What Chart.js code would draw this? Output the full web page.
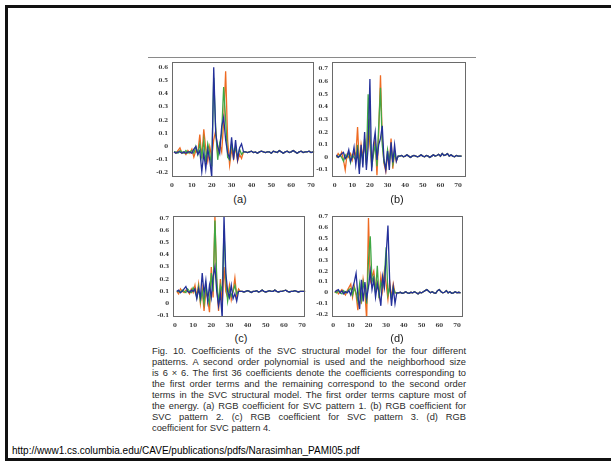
<!DOCTYPE html>
<html>
<head>
<meta charset="utf-8">
<script src="https://cdn.jsdelivr.net/npm/chart.js@4.4.1/dist/chart.umd.min.js"></script>
<style>
  html, body { margin: 0; padding: 0; background: #fff; width: 611px; height: 461px; overflow: hidden; }
  .frame { position: absolute; left: 5px; top: 5px; width: 640px; height: 456px; box-sizing: border-box; border: 3px solid #111; }
  .rule { position: absolute; left: 148px; top: 57px; width: 328px; height: 1px; background: #8a8a8a; }
  canvas { position: absolute; }
  .sub { position: absolute; font: 11px "Liberation Sans", Arial, sans-serif; color: #222; transform: translateX(-50%); }
  .caption { position: absolute; left: 152px; top: 346px; width: 314px; font: 9.3px "Liberation Sans", Arial, sans-serif; color: #2a2a2a; line-height: 11px; }
  .caption div { text-align: justify; text-align-last: justify; white-space: nowrap; }
  .caption div.last { text-align-last: left; }
  .url { position: absolute; left: 12px; top: 445px; font: 10px "Liberation Sans", Arial, sans-serif; color: #000; }
</style>
</head>
<body>
<div class="frame"></div>
<div class="rule"></div>
<canvas id="pa"></canvas>
<canvas id="pb"></canvas>
<canvas id="pc"></canvas>
<canvas id="pd"></canvas>
<div class="sub" style="left:240px; top:193px">(a)</div>
<div class="sub" style="left:397px; top:193px">(b)</div>
<div class="sub" style="left:241px; top:332px">(c)</div>
<div class="sub" style="left:397px; top:332px">(d)</div>
<div class="caption">
  <div>Fig. 10. Coefficients of the SVC structural model for the four different</div>
  <div>patterns. A second order polynomial is used and the neighborhood size</div>
  <div>is 6 × 6. The first 36 coefficients denote the coefficients corresponding to</div>
  <div>the first order terms and the remaining correspond to the second order</div>
  <div>terms in the SVC structural model. The first order terms capture most of</div>
  <div>the energy. (a) RGB coefficient for SVC pattern 1. (b) RGB coefficient for</div>
  <div>SVC pattern 2. (c) RGB coefficient for SVC pattern 3. (d) RGB</div>
  <div class="last">coefficient for SVC pattern 4.</div>
</div>
<div class="url">http://www1.cs.columbia.edu/CAVE/publications/pdfs/Narasimhan_PAMI05.pdf</div>

<script>
// coefficient index 1..72, first 36 hand read, then the flat tail
const xTicks = [0, 10, 20, 30, 40, 50, 60, 70]

// (a)
const aRed = [-0.04, -0.05, -0.03, -0.01, -0.05, -0.04, -0.06, -0.03, -0.05, -0.02, -0.08, -0.03, -0.05, 0.09, -0.09, 0.13, -0.02, -0.11, 0.0, -0.08, 0.05, 0.12, -0.06, 0.02, -0.04, 0.18, 0.57, 0.05, -0.14, -0.02, -0.09, 0.0, -0.11, -0.06, -0.09, -0.04]
const aGreen = [-0.04, -0.04, -0.05, -0.03, -0.04, -0.05, -0.03, -0.05, -0.04, -0.03, -0.05, 0.0, -0.06, 0.02, -0.08, 0.05, -0.12, 0.02, -0.05, -0.15, 0.52, 0.13, -0.1, 0.02, 0.1, 0.45, 0.2, -0.08, -0.1, 0.02, -0.05, -0.01, -0.08, -0.02, -0.06, -0.04]
const aBlue = [-0.04, -0.05, -0.04, -0.04, -0.05, -0.04, -0.05, -0.04, -0.04, -0.05, -0.02, 0.0, -0.06, -0.03, -0.19, -0.05, -0.17, -0.02, -0.1, -0.23, 0.6, 0.1, 0.0, -0.05, 0.15, 0.22, 0.05, -0.05, -0.09, 0.07, -0.1, 0.05, -0.1, -0.01, 0.02, -0.04]
const aTail = [-0.04, -0.045, -0.04, -0.035, -0.045, -0.04, -0.05, -0.04, -0.035, -0.04, -0.045, -0.04, -0.04, -0.05, -0.035, -0.04, -0.045, -0.03, -0.04, -0.05, -0.04, -0.035, -0.045, -0.04, -0.03, -0.04, -0.05, -0.04, -0.035, -0.045, -0.04, -0.04, -0.035, -0.045, -0.04, -0.04]
const aTicks = [-0.2, -0.1, 0, 0.1, 0.2, 0.3, 0.4, 0.5, 0.6]

// (b)
const bRed = [0.0, 0.03, 0.01, 0.04, -0.02, -0.1, 0.02, 0.0, 0.03, -0.02, 0.05, 0.01, 0.24, -0.06, 0.1, 0.0, 0.12, -0.04, 0.3, 0.1, -0.05, 0.05, 0.15, -0.14, 0.2, 0.65, 0.15, -0.05, -0.11, 0.02, -0.06, 0.15, -0.09, 0.05, -0.03, 0.01]
const bGreen = [0.01, 0.0, 0.02, 0.0, -0.03, 0.02, 0.0, 0.04, -0.04, 0.02, 0.0, -0.02, 0.1, -0.08, 0.05, -0.02, 0.15, -0.06, 0.5, 0.2, -0.08, 0.02, 0.1, -0.07, 0.25, 0.55, 0.1, -0.04, -0.08, 0.06, -0.03, 0.08, -0.05, 0.03, -0.02, 0.01]
const bBlue = [0.02, 0.0, 0.01, 0.03, 0.04, -0.01, 0.01, 0.06, -0.03, 0.0, 0.08, -0.06, 0.05, -0.13, 0.1, -0.08, 0.2, -0.1, 0.08, 0.62, -0.11, 0.1, 0.2, -0.02, 0.1, 0.15, 0.25, -0.02, -0.1, 0.05, -0.1, 0.12, -0.04, 0.1, -0.03, 0.01]
const bTail = [0.01, 0.015, 0.005, 0.01, 0.02, 0.01, 0.0, 0.01, 0.015, 0.01, 0.005, 0.01, 0.02, 0.01, 0.005, 0.015, 0.01, 0.0, 0.01, 0.02, 0.01, 0.015, 0.025, 0.01, 0.03, 0.015, 0.02, 0.03, 0.01, 0.02, 0.01, 0.005, 0.015, 0.01, 0.01, 0.01]
const bTicks = [-0.1, 0, 0.1, 0.2, 0.3, 0.4, 0.5, 0.6, 0.7]

// (c)
const cRed = [0.1, 0.08, 0.12, 0.1, 0.09, 0.11, 0.1, 0.08, 0.12, 0.09, 0.15, 0.06, 0.16, 0.0, 0.12, -0.06, 0.1, 0.04, -0.07, 0.3, 0.05, 0.72, 0.15, -0.06, 0.2, -0.02, 0.3, 0.1, 0.05, 0.15, 0.03, 0.1, 0.21, 0.06, 0.12, 0.1]
const cGreen = [0.1, 0.1, 0.09, 0.11, 0.1, 0.09, 0.12, 0.1, 0.09, 0.13, 0.1, 0.05, 0.14, 0.02, 0.1, 0.0, 0.15, 0.05, 0.0, 0.25, 0.1, 0.68, 0.2, 0.0, 0.15, 0.1, 0.6, 0.2, 0.02, 0.12, 0.06, 0.1, 0.15, 0.08, 0.1, 0.1]
const cBlue = [0.1, 0.11, 0.09, 0.1, 0.12, 0.14, 0.1, 0.09, 0.11, 0.1, 0.12, 0.04, 0.12, 0.05, 0.25, 0.08, 0.19, 0.02, 0.15, 0.05, 0.22, 0.3, 0.1, -0.02, 0.08, -0.12, 0.72, 0.25, 0.1, 0.05, 0.15, 0.04, 0.08, 0.02, 0.1, 0.1]
const cTail = [0.1, 0.095, 0.1, 0.105, 0.1, 0.09, 0.1, 0.1, 0.105, 0.095, 0.1, 0.11, 0.1, 0.095, 0.1, 0.105, 0.1, 0.1, 0.11, 0.1, 0.095, 0.1, 0.1, 0.105, 0.11, 0.1, 0.095, 0.1, 0.1, 0.105, 0.1, 0.095, 0.1, 0.1, 0.1, 0.1]
const cTicks = [-0.1, 0, 0.1, 0.2, 0.3, 0.4, 0.5, 0.6, 0.7]

// (d)
const dRed = [0.0, 0.02, -0.01, 0.01, 0.03, 0.0, -0.02, 0.02, 0.05, 0.08, -0.04, 0.06, -0.02, -0.16, 0.05, -0.1, 0.12, 0.0, -0.25, 0.69, 0.1, 0.15, 0.2, 0.05, 0.1, -0.03, 0.15, 0.02, 0.2, 0.08, -0.06, 0.1, -0.05, 0.08, 0.0, 0.0]
const dGreen = [0.01, 0.0, 0.02, 0.0, -0.01, 0.02, 0.0, 0.01, 0.03, 0.04, -0.02, 0.05, 0.0, -0.08, 0.08, -0.06, 0.1, 0.02, -0.1, 0.3, 0.52, 0.1, 0.15, 0.0, 0.25, -0.05, 0.1, 0.05, 0.15, 0.42, -0.02, 0.05, -0.06, 0.05, 0.0, 0.0]
const dBlue = [0.01, 0.02, 0.03, 0.0, 0.02, -0.01, 0.01, 0.0, 0.02, -0.02, 0.04, 0.1, 0.18, -0.02, -0.15, 0.12, -0.08, 0.1, -0.05, 0.05, 0.2, 0.03, 0.12, -0.04, 0.08, 0.0, -0.12, 0.15, 0.05, 0.35, 0.62, 0.1, -0.12, 0.05, -0.1, 0.0]
const dTail = [0.0, 0.005, -0.005, 0.0, 0.01, 0.0, -0.005, 0.005, 0.0, 0.01, 0.0, -0.01, 0.005, 0.0, 0.01, 0.02, 0.03, 0.015, 0.0, 0.01, 0.0, -0.005, 0.02, 0.03, 0.01, 0.0, 0.005, 0.02, 0.0, 0.01, -0.005, 0.0, 0.01, 0.0, 0.005, 0.0]
const dTicks = [-0.2, -0.1, 0, 0.1, 0.2, 0.3, 0.4, 0.5, 0.6, 0.7]

const RED = '#ee6a22'
const GREEN = '#3fa845'
const BLUE = '#24309a'

const boxPlugin = {
  id: 'box',
  afterDraw(chart) {
    const a = chart.chartArea
    const ctx = chart.ctx
    ctx.save()
    ctx.strokeStyle = '#6a6a6a'
    ctx.lineWidth = 1
    ctx.strokeRect(Math.round(a.left) + 0.5, Math.round(a.top) + 0.5, Math.round(a.right - a.left) - 1, Math.round(a.bottom - a.top) - 1)
    ctx.restore()
  }
}

function points(head, tail) {
  return head.concat(tail).map(function (v, i) { return { x: i + 1, y: v } })
}

function panel(id, box, xr, yr, yTicks, red, green, blue, tail) {
  var padL = 21, padT = 4, padR = 5, padB = 14
  var canvas = document.getElementById(id)
  canvas.width = box.right - box.left + padL + padR
  canvas.height = box.bottom - box.top + padT + padB
  canvas.style.left = (box.left - padL) + 'px'
  canvas.style.top = (box.top - padT) + 'px'
  var line = function (data, color) {
    return { data: data, borderColor: color, borderWidth: 1.3, pointRadius: 0, tension: 0, fill: false }
  }
  var tickFont = { family: 'DejaVu Serif', size: 5.5, weight: 'bold' }
  new Chart(canvas.getContext('2d'), {
    type: 'line',
    data: {
      datasets: [
        line(points(blue, tail), BLUE),
        line(points(green, tail), GREEN),
        line(points(red, tail), RED)
      ]
    },
    options: {
      responsive: false,
      animation: false,
      layout: { padding: { left: 0, top: padT, right: padR, bottom: 0 } },
      plugins: { legend: { display: false }, tooltip: { enabled: false } },
      scales: {
        x: {
          type: 'linear', min: xr[0], max: xr[1],
          grid: { display: false, drawTicks: false }, border: { display: false },
          afterBuildTicks: function (s) { s.ticks = xTicks.map(function (v) { return { value: v } }) },
          afterFit: function (s) { s.height = padB },
          ticks: { padding: 5, maxRotation: 0, autoSkip: false, color: '#3a3a3a', font: tickFont }
        },
        y: {
          min: yr[0], max: yr[1],
          grid: { display: false, drawTicks: false }, border: { display: false },
          afterBuildTicks: function (s) { s.ticks = yTicks.map(function (v) { return { value: v } }) },
          afterFit: function (s) { s.width = padL },
          ticks: {
            padding: 4, color: '#3a3a3a', font: tickFont,
            callback: function (v) {
              var r = Math.round(v * 10) / 10
              return r < 0 ? '-' + String(-r) : String(r)
            }
          }
        }
      }
    },
    plugins: [boxPlugin]
  })
}

panel('pa', { left: 172, top: 59, right: 315, bottom: 177 }, [0, 71.5], [-0.23, 0.637], aTicks, aRed, aGreen, aBlue, aTail)
panel('pb', { left: 332, top: 59, right: 466, bottom: 177 }, [-1.5, 74.5], [-0.155, 0.752], bTicks, bRed, bGreen, bBlue, bTail)
panel('pc', { left: 173, top: 213, right: 306, bottom: 317 }, [-1.1, 71.7], [-0.11, 0.715], cTicks, cRed, cGreen, cBlue, cTail)
panel('pd', { left: 332, top: 213, right: 463, bottom: 317 }, [-0.6, 73.4], [-0.223, 0.705], dTicks, dRed, dGreen, dBlue, dTail)
</script>
</body>
</html>
